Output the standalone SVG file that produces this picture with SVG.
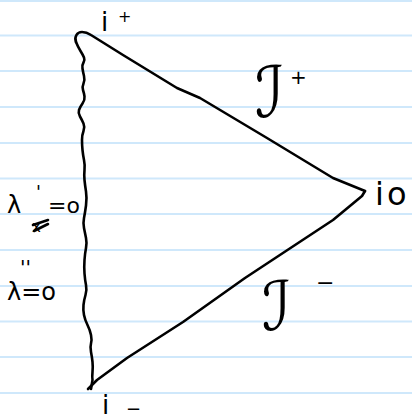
<svg xmlns="http://www.w3.org/2000/svg" width="412" height="420" viewBox="0 0 412 420">
<style>
.rule{stroke:#cfe8fb;stroke-width:2}
.ink{fill:none;stroke:#000;stroke-width:2.6;stroke-linecap:round;stroke-linejoin:round}
.t{font-family:"DejaVu Sans","Liberation Sans",sans-serif;fill:#000}
</style>
<rect width="412" height="420" fill="#fff"/>
<g id="paper">
<line class="rule" x1="0" y1="1" x2="412" y2="1"/>
<line class="rule" x1="0" y1="35.5" x2="412" y2="35.5"/>
<line class="rule" x1="0" y1="71" x2="412" y2="71"/>
<line class="rule" x1="0" y1="107" x2="412" y2="107"/>
<line class="rule" x1="0" y1="143" x2="412" y2="143"/>
<line class="rule" x1="0" y1="178.5" x2="412" y2="178.5"/>
<line class="rule" x1="0" y1="214" x2="412" y2="214"/>
<line class="rule" x1="0" y1="250" x2="412" y2="250"/>
<line class="rule" x1="0" y1="286" x2="412" y2="286"/>
<line class="rule" x1="0" y1="321.5" x2="412" y2="321.5"/>
<line class="rule" x1="0" y1="357" x2="412" y2="357"/>
<line class="rule" x1="0" y1="393" x2="412" y2="393"/>
</g>
<g id="connectors">
<path class="ink" d="M76,42 C74,37 77,32 82,32 C85,32 88,33 91,35 L123,55 L177,88 L200,98 L267,138 L333,178 L365,191"/>
<path class="ink" d="M365,191 L362,196 L333,220 L245,278 L183,322 L127,358 L97,380 L88,389"/>
<path class="ink" d="M76,42 Q78,47 80.5,51 Q83,55 84,57.5 Q85,60 83.5,62.5 Q82,65 82.5,68.5 Q83,72 84,76 Q85,80 83.5,83.5 Q82,87 83,90 Q84,93 84.5,96.5 Q85,100 82.5,103.5 Q80,107 79,110 Q78,113 80,116.5 Q82,120 83.5,123.5 Q85,127 83.5,131 Q82,135 82,140 Q82,145 82.5,150 Q83,155 84,160 Q85,165 84.5,170 Q84,175 84.5,180 Q85,185 86,191.5 Q87,198 86,205.5 Q85,213 84,218 Q83,223 84,228 Q85,233 86,238 Q87,243 86,248 Q85,253 84.5,260 Q84,267 84.5,273.5 Q85,280 86,285 Q87,290 85.5,295 Q84,300 83.5,305 Q83,310 84,315 Q85,320 87.5,325 Q90,330 91,335 Q92,340 91,343.5 Q90,347 91,352 Q92,357 92.5,362 Q93,367 92.5,372 Q92,377 92.5,380 L91,389"/>
</g>
<g id="i-plus">
<text class="t" x="101" y="31" font-size="26">i</text>
<text class="t" x="118" y="22" font-size="16">+</text>
</g>
<g id="scri-plus">
<text class="t" transform="translate(255,117) scale(1,1.14)" font-size="62">ℐ</text>
<text class="t" x="290" y="84" font-size="20">+</text>
</g>
<g id="i-zero">
<text class="t" x="375" y="205" font-size="32" letter-spacing="3">io</text>
</g>
<g id="scri-minus">
<text class="t" transform="translate(262,330) scale(1,1.1)" font-size="62">ℐ</text>
<text class="t" x="316" y="290" font-size="22">−</text>
</g>
<g id="i-minus">
<text class="t" x="102" y="414" font-size="26">i</text>
<text class="t" x="126" y="415" font-size="18">−</text>
</g>
<g id="label-lambda-prime">
<text class="t" x="7" y="213" font-size="24">λ</text>
<text class="t" x="36" y="198" font-size="18">'</text>
<text class="t" x="32" y="232" font-size="15">x</text>
<path class="ink" stroke-width="1.8" d="M33,225 L48,220 M34,231 L48,224"/>
<text class="t" x="48" y="213" font-size="22">=o</text>
</g>
<g id="label-lambda-dprime">
<text class="t" x="20" y="274" font-size="20">''</text>
<text class="t" x="7" y="300" font-size="24">λ=o</text>
</g>
</svg>
